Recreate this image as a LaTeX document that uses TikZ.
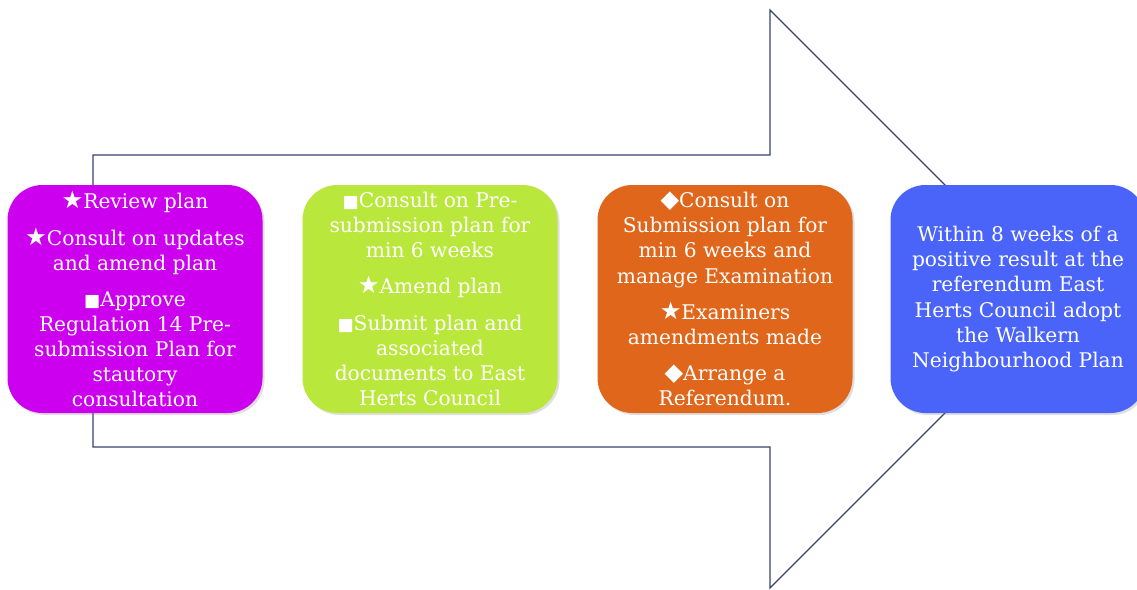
\documentclass[tikz,border=0pt]{standalone}
\usepackage{fontspec}
\setmainfont{DejaVu Serif}
\newfontfamily\symf[Scale=0.85]{DejaVu Sans}
\newfontfamily\symbig[Scale=1.2]{DejaVu Sans}
\usetikzlibrary{shadows}
\definecolor{cMag}{RGB}{204,0,238}
\definecolor{cGrn}{RGB}{186,231,60}
\definecolor{cOrg}{RGB}{223,102,26}
\definecolor{cBlu}{RGB}{74,100,250}
\definecolor{cLine}{RGB}{55,66,110}
\newcommand{\bstar}{{\symbig ★}}
\newcommand{\bsq}{{\symf ■}}
\newcommand{\bdia}{{\symbig ◆}}
\tikzset{
  stage/.style={rounded corners=35pt, minimum width=255pt, minimum height=228pt,
    inner sep=0pt, align=center, text=white,
    font=\fontsize{20.2}{25.2}\selectfont,
    drop shadow={opacity=0.25, shadow xshift=2pt, shadow yshift=-2pt}},
  arrowshape/.style={draw=cLine, line width=1.2pt, fill=white, line join=miter}
}
\begin{document}
\begin{tikzpicture}[x=1pt,y=-1pt]
\useasboundingbox (0,0) rectangle (1137,589);
\coordinate (s1) at (93,155);
\coordinate (s2) at (770,155);
\coordinate (h1) at (770,10);
\coordinate (tip) at (1059,299);
\coordinate (h2) at (770,588);
\coordinate (s3) at (770,447);
\coordinate (s4) at (93,447);
\draw[arrowshape] (s1) -- (s2) -- (h1) -- (tip) -- (h2) -- (s3) -- (s4) -- cycle;
\node[stage, fill=cMag] (b1) at (135,299) {\bstar Review plan\\[12pt]
  \bstar Consult on updates\\ and amend plan\\[10pt]
  \bsq Approve\\ Regulation 14 Pre-\\ submission Plan for\\ stautory\\ consultation};
\node[stage, fill=cGrn] (b2) at (430,299) {\bsq Consult on Pre-\\ submission plan for\\ min 6 weeks\\[11pt]
  \bstar Amend plan\\[11pt]
  \bsq Submit plan and\\ associated\\ documents to East\\ Herts Council};
\node[stage, fill=cOrg] (b3) at (725,299) {\bdia Consult on\\ Submission plan for\\ min 6 weeks and\\ manage Examination\\[11pt]
  \bstar Examiners\\ amendments made\\[11pt]
  \bdia Arrange a\\ Referendum.};
\node[stage, fill=cBlu] (b4) at (1018,299) {Within 8 weeks of a\\ positive result at the\\ referendum East\\ Herts Council adopt\\ the Walkern\\ Neighbourhood Plan};
\end{tikzpicture}
\end{document}
